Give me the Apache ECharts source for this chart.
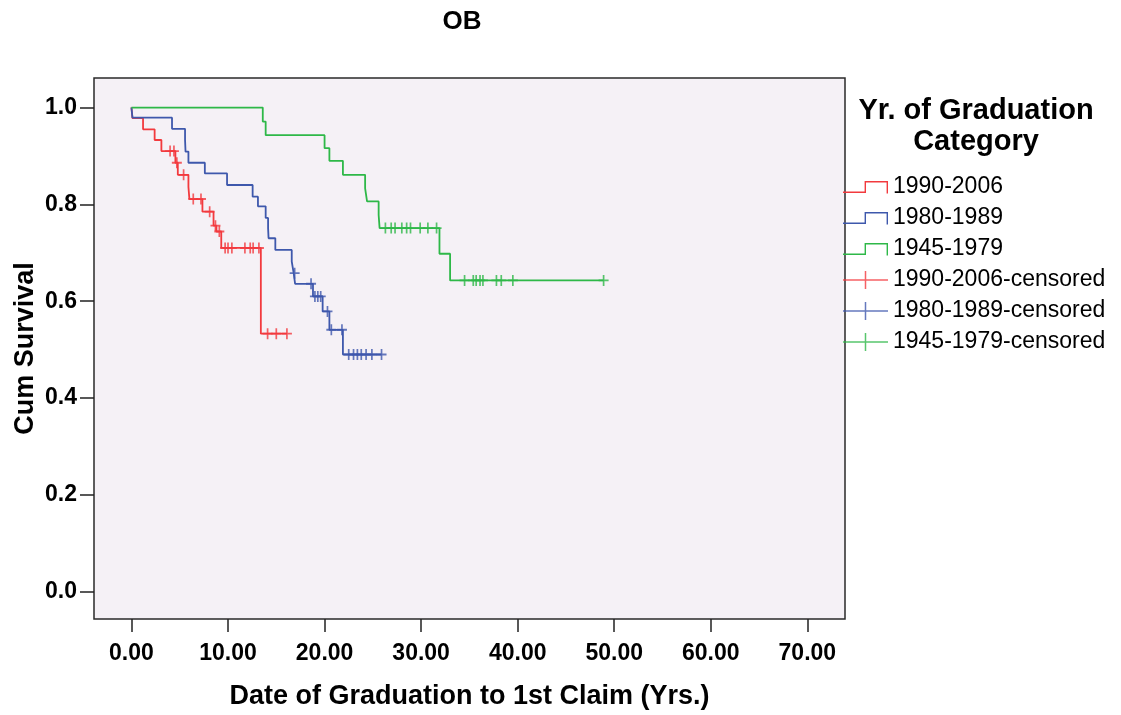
<!DOCTYPE html>
<html><head><meta charset="utf-8">
<script src="https://cdn.jsdelivr.net/npm/echarts@6/dist/echarts.min.js"></script>
<style>html,body{margin:0;padding:0;background:#fff}#c{width:1121px;height:715px}</style>
</head><body><div id="c"></div>
<script>
// ---- data ----
const chartTitle = 'OB';
const legendTitle = 'Yr. of Graduation\nCategory';
const xAxisTitle = 'Date of Graduation to 1st Claim (Yrs.)';
const yAxisTitle = 'Cum Survival';
const xTicks = [0, 10, 20, 30, 40, 50, 60, 70];
const yTicks = [0, 0.2, 0.4, 0.6, 0.8, 1.0];
const groupNames = ['1990-2006', '1980-1989', '1945-1979'];

// step points: time of event, survival after the event (last point = last follow-up)
const redTimes = [0, 0.1, 1.2, 2.4, 3.1, 4.55, 4.8, 5.9, 6.0, 7.35, 8.5, 8.8, 9.3, 13.4, 16.1];
const redSurv  = [1, 0.978, 0.955, 0.933, 0.910, 0.886, 0.861, 0.836, 0.811, 0.785, 0.756, 0.744, 0.710, 0.533, 0.533];
const redCensored = [4.0, 4.4, 4.7, 5.4, 6.4, 7.2, 8.1, 8.7, 9.1, 9.7, 10.0, 10.4, 11.75, 12.3, 12.6, 13.2, 14.1, 15.0, 16.1];

const blueTimes = [0, 0.1, 4.2, 5.55, 5.6, 5.9, 7.6, 9.9, 12.55, 13.1, 13.9, 14.15, 14.2, 14.9, 16.6, 16.8, 16.95, 18.8, 19.8, 20.5, 21.9, 25.9];
const blueSurv  = [1, 0.979, 0.956, 0.933, 0.909, 0.886, 0.864, 0.840, 0.816, 0.796, 0.772, 0.751, 0.730, 0.706, 0.682, 0.658, 0.636, 0.610, 0.579, 0.541, 0.490, 0.490];
const blueCensored = [16.9, 18.6, 19.0, 19.3, 19.6, 20.3, 20.7, 21.8, 22.5, 23.0, 23.4, 23.8, 24.3, 24.9, 25.9];

const greenTimes = [0, 13.6, 13.9, 20.0, 20.5, 21.9, 24.2, 24.4, 25.6, 25.7, 31.9, 33.0, 48.9];
const greenSurv  = [1, 0.971, 0.943, 0.916, 0.890, 0.861, 0.833, 0.806, 0.778, 0.751, 0.698, 0.643, 0.643];
const greenCensored = [26.3, 26.9, 27.3, 28.0, 28.5, 28.9, 29.9, 30.7, 31.6, 34.5, 35.4, 35.7, 36.1, 36.4, 37.8, 38.3, 39.5, 48.9];

// ---- styles ----
const colors = ['#f23a3e', '#3e58ac', '#2eb848'];
const FONT = '"Liberation Sans", Arial, sans-serif';
const crossPath = 'path://M8.3,0H11.7V8.3H20V11.7H11.7V20H8.3V11.7H0V8.3H8.3Z';
const stepIcon = 'path://M0,13.6H21.6V3H45V15.5H43.6V4.4H23V15H0Z M22,0L22.2,0L22,0Z M22,18L22.2,18L22,18Z';
const censIcon = 'path://M0,8.25H21.75V0H23.25V8.25H45V9.75H23.25V18H21.75V9.75H0Z';

function pairs(t, s) { return t.map((v, i) => [v, s[i]]); }
function survAt(times, surv, t) {
  let s = surv[0];
  for (let i = 0; i < times.length; i++) if (times[i] <= t) s = surv[i];
  return s;
}
const groups = [
  [redTimes, redSurv, redCensored],
  [blueTimes, blueSurv, blueCensored],
  [greenTimes, greenSurv, greenCensored]
];

const series = [];
groups.forEach((g, i) => {
  series.push({
    name: groupNames[i], type: 'line', step: 'end', showSymbol: false, symbol: 'none',
    data: pairs(g[0], g[1]), color: colors[i],
    lineStyle: { color: colors[i], width: 1.8 }, z: 3
  });
});
groups.forEach((g, i) => {
  series.push({
    name: groupNames[i] + '-censored', type: 'scatter', symbol: crossPath, symbolSize: [10, 11],
    data: g[2].map(t => [t, survAt(g[0], g[1], t)]), color: colors[i],
    itemStyle: { color: colors[i], borderWidth: 0 }, z: 4
  });
});

const legendData = groupNames.map((n, i) => ({ name: n, icon: stepIcon, itemStyle: { color: colors[i], borderWidth: 0 } }))
  .concat(groupNames.map((n, i) => ({ name: n + '-censored', icon: censIcon, itemStyle: { color: colors[i], borderWidth: 0 } })));

const chart = echarts.init(document.getElementById('c'), null, { renderer: 'canvas' });
chart.setOption({
  animation: false,
  backgroundColor: '#ffffff',
  textStyle: { fontFamily: FONT },
  grid: { left: 94, top: 78, right: 276, bottom: 95, show: true, backgroundColor: '#f5f1f6', borderColor: '#2a2a2a', borderWidth: 1.5 },
  xAxis: {
    type: 'value', min: -3.88, max: 73.9,
    name: xAxisTitle, nameLocation: 'middle', nameGap: 64, nameMoveOverlap: false,
    nameTextStyle: { fontSize: 27, fontWeight: 'bold', color: '#000', fontFamily: FONT },
    axisLine: { show: false, onZero: false },
    axisTick: { show: true, length: 13, customValues: xTicks, lineStyle: { color: '#222', width: 1.5 } },
    axisLabel: { customValues: xTicks, formatter: v => v.toFixed(2), fontSize: 23, fontWeight: 'bold', color: '#000', margin: 23, fontFamily: FONT },
    splitLine: { show: false }
  },
  yAxis: {
    type: 'value', min: -0.0563, max: 1.061,
    name: yAxisTitle, nameLocation: 'middle', nameGap: 55, nameRotate: 90, nameMoveOverlap: false,
    nameTextStyle: { fontSize: 27, fontWeight: 'bold', color: '#000', fontFamily: FONT },
    axisLine: { show: false, onZero: false },
    axisTick: { show: true, length: 14, customValues: yTicks, lineStyle: { color: '#222', width: 1.5 } },
    axisLabel: { customValues: yTicks, formatter: v => v.toFixed(1), fontSize: 23, fontWeight: 'bold', color: '#000', margin: 17, fontFamily: FONT },
    splitLine: { show: false }
  },
  legend: {
    orient: 'vertical', left: 843, top: 175, padding: 0,
    itemWidth: 45, itemHeight: 18, itemGap: 7, symbolKeepAspect: false,
    itemStyle: { borderWidth: 0 },
    textStyle: { fontSize: 23, color: '#000', lineHeight: 24, fontFamily: FONT },
    selectedMode: false,
    data: legendData
  },
  graphic: [
    { type: 'text', x: 462, y: 22, style: { text: chartTitle, textAlign: 'center', textVerticalAlign: 'middle', font: 'bold 26px ' + FONT, fill: '#000' } },
    { type: 'text', x: 976, y: 126, style: { text: legendTitle, textAlign: 'center', textVerticalAlign: 'middle', font: 'bold 29px ' + FONT, lineHeight: 31, fill: '#000' } }
  ],
  series: series
});
</script>
</body></html>
